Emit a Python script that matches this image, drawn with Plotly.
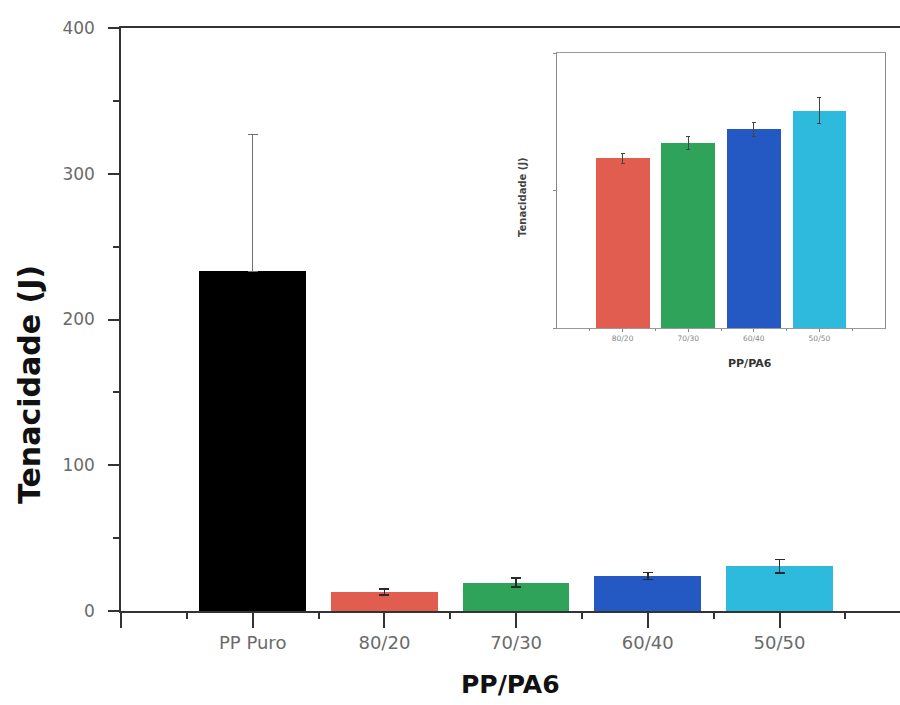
import plotly.graph_objects as go

# ---- data ----
categories = ["PP Puro", "80/20", "70/30", "60/40", "50/50"]
tenacidade = [233, 13, 19.5, 24, 30.8]
erro = [94, 2, 3, 2.5, 4.6]
bar_colors = ["#000000", "#E05D4F", "#2FA35A", "#2458C3", "#2DBADC"]

inset_categories = ["80/20", "70/30", "60/40", "50/50"]
inset_values = [24.7, 26.9, 28.9, 31.6]
inset_errors = [0.7, 0.9, 1.0, 1.9]
inset_colors = ["#E05D4F", "#2FA35A", "#2458C3", "#2DBADC"]

y_ticks = [0, 100, 200, 300, 400]

W, H = 900, 705
L, R, T, B = 121, 0, 28, 94
pw, ph = W - L - R, H - T - B

def px_x(x):
    return (x - L) / pw

def px_y(y):
    return (H - B - y) / ph

xpos = list(range(len(categories)))
ipos = list(range(len(inset_categories)))

fig = go.Figure()

# main bars: PP Puro (grey error bar, lower half hidden by the bar) and blends
fig.add_trace(go.Bar(
    x=xpos[:1], y=tenacidade[:1], width=0.81,
    marker=dict(color=bar_colors[:1], line=dict(width=0)),
    error_y=dict(type="data", symmetric=False, array=erro[:1],
                 arrayminus=[0], visible=True,
                 color="#707070", thickness=1.5, width=5),
    showlegend=False, xaxis="x", yaxis="y"))
fig.add_trace(go.Bar(
    x=xpos[1:], y=tenacidade[1:], width=0.81,
    marker=dict(color=bar_colors[1:], line=dict(width=0)),
    error_y=dict(type="data", array=erro[1:], visible=True,
                 color="#2a2a2a", thickness=1.6, width=5),
    showlegend=False, xaxis="x", yaxis="y"))

# inset bars
fig.add_trace(go.Bar(
    x=ipos, y=inset_values, width=0.82,
    marker=dict(color=inset_colors, line=dict(width=0)),
    error_y=dict(type="data", array=inset_errors, visible=True,
                 color="#444444", thickness=1, width=2),
    showlegend=False, xaxis="x2", yaxis="y2"))

fig.update_layout(
    width=W, height=H,
    margin=dict(l=L, r=R, t=T, b=B, pad=0),
    paper_bgcolor="white", plot_bgcolor="white",
    bargap=0,
    xaxis=dict(
        domain=[0, 1],
        range=[-1, (W - L) / 131.7 - 1],
        tickmode="array",
        tickvals=[-1] + xpos,
        ticktext=[""] + categories,
        ticks="outside", ticklen=15, tickwidth=1.5, tickcolor="#333333",
        minor=dict(tickmode="array", tickvals=[-0.5 + i for i in range(6)],
                   ticks="outside", ticklen=6, tickwidth=1.5, tickcolor="#333333"),
        showline=True, linecolor="#333333", linewidth=1.5, mirror=True,
        showgrid=False, zeroline=False,
        tickfont=dict(family="DejaVu Sans", size=18, color="#6a6a6a"),
        fixedrange=True,
    ),
    yaxis=dict(
        domain=[0, 1],
        range=[0, 400],
        tickmode="array", tickvals=y_ticks,
        ticks="outside", ticklen=11, tickwidth=1.5, tickcolor="#333333",
        minor=dict(tickmode="array", tickvals=[50, 150, 250, 350],
                   ticks="outside", ticklen=6, tickwidth=1.5, tickcolor="#333333"),
        showline=True, linecolor="#333333", linewidth=1.5,
        showgrid=False, zeroline=False,
        tickfont=dict(family="DejaVu Sans", size=17, color="#6a6a6a"),
        ticklabelstandoff=10,
    ),
    xaxis2=dict(
        domain=[px_x(557), px_x(885)],
        anchor="y2",
        range=[-1, 4],
        tickmode="array", tickvals=ipos, ticktext=inset_categories,
        ticks="outside", ticklen=3, tickwidth=1, tickcolor="#888888",
        minor=dict(tickmode="array", tickvals=[-0.5 + i for i in range(5)],
                   ticks="outside", ticklen=2, tickwidth=1, tickcolor="#888888"),
        showline=True, linecolor="#999999", linewidth=1, mirror=True,
        showgrid=False, zeroline=False,
        tickfont=dict(family="DejaVu Sans", size=7.5, color="#888888"),
    ),
    yaxis2=dict(
        domain=[px_y(328), px_y(53)],
        anchor="x2",
        range=[0, 40],
        tickmode="array", tickvals=[0, 20, 40], showticklabels=False,
        ticks="outside", ticklen=3, tickwidth=1, tickcolor="#888888",
        showline=True, linecolor="#888888", linewidth=1, mirror=True,
        showgrid=False, zeroline=False,
    ),
    annotations=[
        dict(text="<b>Tenacidade (J)</b>", xref="paper", yref="paper",
             x=px_x(29), y=px_y(385), xanchor="center", yanchor="middle",
             textangle=-90, showarrow=False,
             font=dict(family="DejaVu Sans", size=30, color="#111111")),
        dict(text="<b>PP/PA6</b>", xref="paper", yref="paper",
             x=px_x(510), y=px_y(684), xanchor="center", yanchor="middle",
             showarrow=False,
             font=dict(family="DejaVu Sans", size=25, color="#111111")),
        dict(text="<b>Tenacidade (J)</b>", xref="paper", yref="paper",
             x=px_x(523), y=px_y(197), xanchor="center", yanchor="middle",
             textangle=-90, showarrow=False,
             font=dict(family="DejaVu Sans", size=10, color="#444444")),
        dict(text="<b>PP/PA6</b>", xref="paper", yref="paper",
             x=px_x(750), y=px_y(363), xanchor="center", yanchor="middle",
             showarrow=False,
             font=dict(family="DejaVu Sans", size=11, color="#333333")),
    ],
)

fig.write_html("out.html")
